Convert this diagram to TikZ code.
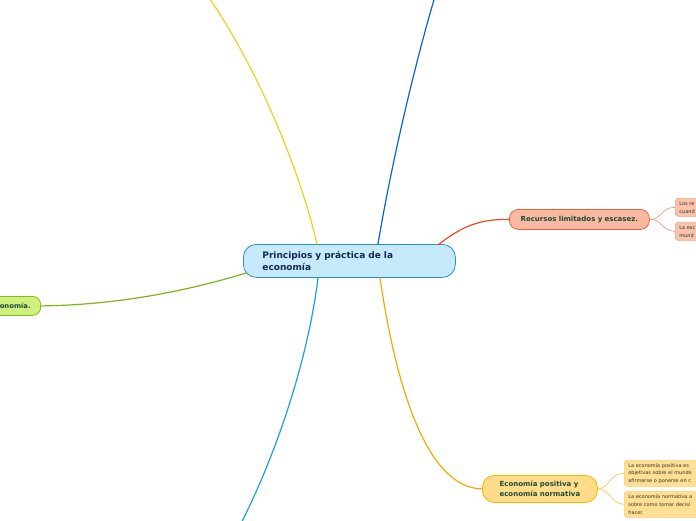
\documentclass[tikz,border=0pt]{standalone}
\usepackage{fontspec}
\setmainfont{DejaVu Sans}
\definecolor{cfill}{HTML}{C6EAFB}
\definecolor{cdraw}{HTML}{2C8BD3}
\definecolor{ctext}{HTML}{13294F}
\definecolor{gtext}{HTML}{1D4A38}
\definecolor{rfill}{HTML}{F9B9A1}
\definecolor{rdraw}{HTML}{EC6236}
\definecolor{rsfill}{HTML}{F9C3AE}
\definecolor{rsdraw}{HTML}{F2A487}
\definecolor{efill}{HTML}{FFDC88}
\definecolor{edraw}{HTML}{F6B400}
\definecolor{esfill}{HTML}{FFDF92}
\definecolor{esdraw}{HTML}{F7CF6A}
\definecolor{lfill}{HTML}{CDF17C}
\definecolor{ldraw}{HTML}{84BC20}
\definecolor{lyellow}{HTML}{E9D31B}
\definecolor{lblue}{HTML}{0A63D2}
\definecolor{lred}{HTML}{EA4A26}
\definecolor{lgreen}{HTML}{7EB71A}
\definecolor{lcyan}{HTML}{1AA1E2}
\definecolor{lorange}{HTML}{F6AA00}
\begin{document}
\begin{tikzpicture}[x=1pt,y=-1pt,
  conn/.style={line width=1.2pt},
  subconn/.style={line width=0.8pt},
  topic/.style={draw, line width=0.8pt, anchor=north west, inner ysep=0pt, font=\fontsize{7}{10}\selectfont\bfseries, text=gtext},
  subtopic/.style={draw, line width=0.7pt, rounded corners=3pt, anchor=north west, inner xsep=4pt, inner ysep=0pt, align=left, font=\fontsize{5}{7.8}\selectfont, text=black!80}]
\useasboundingbox (0,0) rectangle (696,520);
\clip (0,0) rectangle (696,520);
% nodes
\node[draw=cdraw, fill=cfill, line width=0.8pt, rounded corners=13pt, anchor=north west,
  minimum height=33pt, text width=174pt, inner xsep=19pt, inner ysep=0pt, align=left,
  font=\fontsize{9}{11.5}\selectfont\bfseries, text=ctext] (c) at (243,244)
  {Principios y práctica de la\\economía};
\node[topic, draw=rdraw, fill=rfill, rounded corners=9pt, minimum height=20pt, text width=132pt, inner xsep=4pt, align=center] (r) at (509,209) {Recursos limitados y escasez.};
\node[topic, draw=edraw, fill=efill, rounded corners=12pt, minimum height=27pt, minimum width=115pt, inner xsep=4pt, align=left] (e) at (482,475) {Economía positiva y\\economía normativa};
\node[topic, draw=ldraw, fill=lfill, rounded corners=8pt, minimum height=19pt, text width=60pt, inner xsep=10pt, align=right, anchor=north east, font=\fontsize{6.8}{10}\selectfont\bfseries] (l) at (41,296) {onomía.};
\node[subtopic, draw=rsdraw, fill=rsfill, minimum height=18pt, text width=60pt] (r1) at (675,198) {Los re\\cuand};
\node[subtopic, draw=rsdraw, fill=rsfill, minimum height=18pt, text width=60pt] (r2) at (675,222) {La esc\\mund};
\node[subtopic, draw=esdraw, fill=esfill, minimum height=26pt, text width=110pt] (e1) at (624,460) {La economía positiva es\\objetivas sobre el mundo\\afirmarse o ponerse en c};
\node[subtopic, draw=esdraw, fill=esfill, minimum height=26pt, text width=110pt] (e2) at (624,491) {La economía normativa a\\sobre como tomar decisi\\hacer.};
\coordinate (ytop) at (200,-15);
\coordinate (btop) at (440,-20);
\coordinate (cbot) at (235,535);
% connectors
\draw[conn, lyellow] ([xshift=74pt]c.north west) .. controls (300,170) and (255,60) .. (ytop);
\draw[conn, lblue] ([xshift=135pt]c.north west) .. controls (392,160) and (418,50) .. (btop);
\draw[conn, lred] ([xshift=195pt,yshift=-1pt]c.north west) .. controls (462,226) and (480,219) .. (r.west);
\draw[conn, lgreen] ([xshift=4pt,yshift=5pt]c.south west) .. controls (190,290) and (120,305) .. (l.east);
\draw[conn, lcyan] ([xshift=75pt]c.south west) .. controls (308,360) and (275,460) .. (cbot);
\draw[conn, lorange] ([xshift=137pt]c.south west) .. controls (392,360) and (420,488) .. (e.west);
\draw[subconn, rsdraw] (r.east) .. controls (662,219) and (662,207) .. (r1.west);
\draw[subconn, rsdraw] (r.east) .. controls (662,219) and (662,231) .. (r2.west);
\draw[subconn, esdraw] (e.east) .. controls (610,488) and (610,473) .. (e1.west);
\draw[subconn, esdraw] (e.east) .. controls (610,488) and (610,504) .. (e2.west);
\end{tikzpicture}
\end{document}
